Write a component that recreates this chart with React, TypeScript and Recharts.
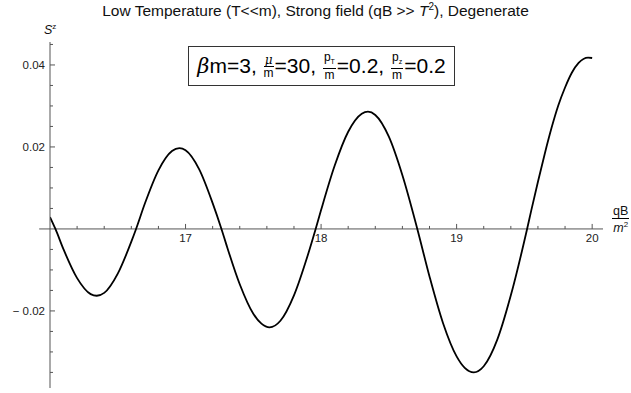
import React from 'react';
import { LineChart, Line, XAxis, YAxis, ReferenceLine } from 'recharts';

// S^z vs qB/m^2
const qB = [
  16.0, 16.04, 16.1, 16.2, 16.3, 16.345, 16.4, 16.5, 16.6, 16.635,
  16.7, 16.8, 16.9, 16.955, 17.0, 17.1, 17.2, 17.265, 17.3, 17.4,
  17.5, 17.56, 17.62, 17.7, 17.8, 17.9, 17.96, 18.0, 18.1, 18.2, 18.3,
  18.346, 18.4, 18.5, 18.6, 18.71, 18.8, 18.9, 19.0, 19.06, 19.127,
  19.2, 19.3, 19.4, 19.52, 19.55, 19.6, 19.65, 19.7, 19.75, 19.8,
  19.85, 19.9, 19.97, 20.0,
];
const sz = [
  0.0029, 0.0, -0.005, -0.012, -0.0159, -0.0163, -0.0156, -0.0109, -0.0031, 0.0,
  0.0062, 0.0143, 0.019, 0.0197, 0.0192, 0.0146, 0.0063, 0.0, -0.0037, -0.0135,
  -0.0207, -0.0231, -0.024, -0.0224, -0.0162, -0.0066, 0.0, 0.0046, 0.0154, 0.0237, 0.0281,
  0.0286, 0.0278, 0.0225, 0.0131, 0.0, -0.0116, -0.023, -0.0311, -0.0339, -0.035,
  -0.0335, -0.027, -0.0162, 0.0, 0.0044, 0.0115, 0.0183, 0.0246, 0.0301, 0.0345,
  0.0381, 0.0405, 0.0418, 0.0417,
];

const xTicks = [16.2, 16.4, 16.6, 16.8, 17, 17.2, 17.4, 17.6, 17.8, 18, 18.2, 18.4, 18.6, 18.8, 19, 19.2, 19.4, 19.6, 19.8, 20];
const xLabels = [17, 18, 19, 20];
const yTicks = [-0.035, -0.03, -0.025, -0.02, -0.015, -0.01, -0.005, 0.005, 0.01, 0.015, 0.02, 0.025, 0.03, 0.035, 0.04, 0.045];
const yLabels = [-0.02, 0.02, 0.04];

const data = qB.map((x, i) => ({ x, y: sz[i] }));

const W = 631;
const H = 393;
const TOP = 42;
const PLOT_H = 346;
const LEFT = 50;
const Y_MIN = -0.0388;
const Y_MAX = 0.0456;
const Y0 = TOP + (PLOT_H * Y_MAX) / (Y_MAX - Y_MIN);
const AXIS = '#555';
const FONT = '"Liberation Sans", Arial, Helvetica, sans-serif';

const isLabel = (v: number, list: number[]) => list.some((l) => Math.abs(l - v) < 1e-6);

const XTick = ({ x, payload }: any) => {
  const major = isLabel(payload.value, xLabels);
  return (
    <g>
      <line x1={x} x2={x} y1={Y0} y2={Y0 - (major ? 5 : 3)} stroke={AXIS} strokeWidth={1} />
      {major && (
        <text x={x} y={Y0 + 13} textAnchor="middle" fontSize={11.5} fontFamily={FONT} fill="#222">
          {payload.value}
        </text>
      )}
    </g>
  );
};

const YTick = ({ y, payload }: any) => {
  const major = isLabel(payload.value, yLabels);
  const v = payload.value;
  const txt = v < 0 ? '\u2212 ' + Math.abs(v).toFixed(2) : v.toFixed(2);
  return (
    <g>
      <line x1={LEFT} x2={LEFT + (major ? 5 : 3)} y1={y} y2={y} stroke={AXIS} strokeWidth={1} />
      {major && (
        <text x={LEFT - 5} y={y + 4} textAnchor="end" fontSize={11.5} fontFamily={FONT} fill="#222">
          {txt}
        </text>
      )}
    </g>
  );
};

const Frac = ({ top, bottom, size = 12 }: { top: React.ReactNode; bottom: React.ReactNode; size?: number }) => (
  <span
    style={{
      display: 'inline-flex',
      flexDirection: 'column',
      alignItems: 'center',
      verticalAlign: 'middle',
      fontSize: size,
      lineHeight: `${size}px`,
      margin: '0 1px',
    }}
  >
    <span style={{ borderBottom: '1px solid #000', padding: '0 1px' }}>{top}</span>
    <span>{bottom}</span>
  </span>
);

export default function App() {
  return (
    <div style={{ position: 'relative', width: W, height: H, background: '#fff', fontFamily: FONT }}>
      <style>{'body{margin:0}'}</style>
      <LineChart width={W} height={H} data={data} margin={{ top: TOP, right: 28, bottom: 0, left: 0 }}>
        <XAxis
          dataKey="x"
          type="number"
          domain={[16, 20.08]}
          ticks={xTicks}
          tick={<XTick />}
          axisLine={false}
          tickLine={false}
          height={5}
          interval={0}
          allowDataOverflow
        />
        <YAxis
          type="number"
          domain={[Y_MIN, Y_MAX]}
          ticks={yTicks}
          tick={<YTick />}
          axisLine={{ stroke: AXIS, strokeWidth: 1 }}
          tickLine={false}
          width={LEFT}
          interval={0}
          allowDataOverflow
        />
        <ReferenceLine
          segment={[{ x: 15.92, y: 0 }, { x: 20.08, y: 0 }]}
          stroke={AXIS}
          strokeWidth={1}
          ifOverflow="visible"
        />
        <Line
          type="monotone"
          dataKey="y"
          stroke="#000"
          strokeWidth={1.8}
          dot={false}
          isAnimationActive={false}
        />
      </LineChart>

      <div
        style={{
          position: 'absolute',
          left: 0,
          top: 1,
          width: W,
          textAlign: 'center',
          fontSize: 15.5,
          color: '#111',
          whiteSpace: 'nowrap',
        }}
      >
        Low Temperature (T&lt;&lt;m), Strong field (qB &gt;&gt; <i>T</i>
        <sup style={{ fontSize: 10 }}>2</sup>), Degenerate
      </div>

      <div style={{ position: 'absolute', left: 44, top: 22, fontSize: 12.5, color: '#111' }}>
        <i>S</i>
        <sup style={{ fontSize: 8 }}>z</sup>
      </div>

      <div style={{ position: 'absolute', left: 611, top: 205, color: '#111' }}>
        <Frac
          size={12.5}
          top={<span>qB</span>}
          bottom={
            <span>
              <i>m</i>
              <sup style={{ fontSize: 8 }}>2</sup>
            </span>
          }
        />
      </div>

      <div
        style={{
          position: 'absolute',
          left: 188,
          top: 46,
          width: 267,
          height: 40,
          border: '1px solid #333',
          boxSizing: 'border-box',
          display: 'flex',
          alignItems: 'center',
          justifyContent: 'center',
          fontSize: 21,
          color: '#000',
          whiteSpace: 'nowrap',
          background: '#fff',
        }}
      >
        <span style={{ fontFamily: '"DejaVu Serif", serif', fontStyle: 'italic' }}>β</span>m=3,&nbsp;
        <Frac top={<i style={{ fontFamily: '"DejaVu Serif", serif' }}>μ</i>} bottom="m" />=30,&nbsp;
        <Frac top={<span>p<sub style={{ fontSize: 7 }}>T</sub></span>} bottom="m" />=0.2,&nbsp;
        <Frac top={<span>p<sub style={{ fontSize: 7 }}>z</sub></span>} bottom="m" />=0.2
      </div>
    </div>
  );
}
